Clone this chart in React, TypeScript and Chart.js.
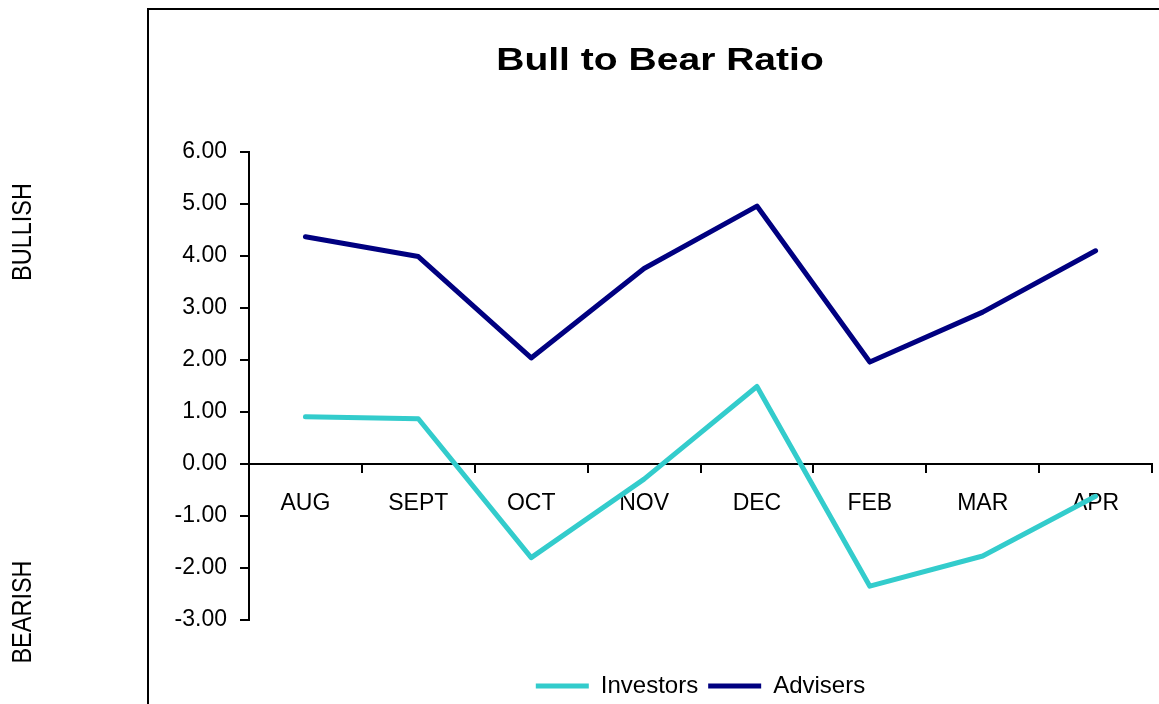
import React, { useEffect, useRef } from 'react';
import { Chart, registerables } from 'chart.js';

Chart.register(...registerables);

const categories = ['AUG', 'SEPT', 'OCT', 'NOV', 'DEC', 'FEB', 'MAR', 'APR'];
const investors = [0.91, 0.87, -1.8, -0.29, 1.49, -2.35, -1.77, -0.62];
const advisers = [4.37, 3.99, 2.04, 3.76, 4.96, 1.96, 2.92, 4.1];
const yMin = -3;
const yMax = 6;
const yStep = 1;
const chartTitle = 'Bull to Bear Ratio';
const upperLabel = 'BULLISH';
const lowerLabel = 'BEARISH';

const FONT = '"Liberation Sans", Arial, Helvetica, sans-serif';

const decorations = {
  id: 'decorations',
  afterDraw(chart: any) {
    const ctx = chart.ctx;
    ctx.save();
    // outer frame (top and left edges visible)
    ctx.strokeStyle = '#000';
    ctx.lineWidth = 2;
    ctx.beginPath();
    ctx.moveTo(148, 720);
    ctx.lineTo(148, 9);
    ctx.lineTo(1200, 9);
    ctx.stroke();

    // title
    ctx.fillStyle = '#000';
    ctx.font = `bold 32px ${FONT}`;
    ctx.textAlign = 'center';
    ctx.textBaseline = 'alphabetic';
    ctx.save();
    ctx.translate(660, 70);
    ctx.scale(1.22, 1);
    ctx.fillText(chartTitle, 0, 0);
    ctx.restore();

    // side labels
    ctx.font = `23.5px ${FONT}`;
    ctx.textAlign = 'center';
    ctx.textBaseline = 'middle';
    ctx.save();
    ctx.translate(23, 232);
    ctx.rotate(-Math.PI / 2);
    ctx.scale(1, 1.18);
    ctx.fillText(upperLabel, 0, 0);
    ctx.restore();
    ctx.save();
    ctx.translate(23, 612);
    ctx.rotate(-Math.PI / 2);
    ctx.scale(1, 1.18);
    ctx.fillText(lowerLabel, 0, 0);
    ctx.restore();
    ctx.restore();
  },
};

export default function App() {
  const ref = useRef<HTMLCanvasElement>(null);

  useEffect(() => {
    if (!ref.current) return;
    const chart = new Chart(ref.current, {
      type: 'line',
      data: {
        labels: categories,
        datasets: [
          {
            label: 'Investors',
            data: investors,
            borderColor: '#33CCCC',
            backgroundColor: '#33CCCC',
            borderWidth: 5,
            pointRadius: 0,
            borderCapStyle: 'round',
            borderJoinStyle: 'round',
            tension: 0,
          },
          {
            label: 'Advisers',
            data: advisers,
            borderColor: '#000080',
            backgroundColor: '#000080',
            borderWidth: 5,
            pointRadius: 0,
            borderCapStyle: 'round',
            borderJoinStyle: 'round',
            tension: 0,
          },
        ],
      },
      options: {
        responsive: false,
        animation: false,
        layout: { padding: { left: 0, right: 7, top: 152, bottom: -4 } },
        plugins: {
          title: { display: false },
          tooltip: { enabled: false },
          legend: {
            position: 'bottom',
            fullSize: false,
            title: {
              display: true,
              text: '',
              font: { family: FONT, size: 12 },
              padding: { top: 29.6, bottom: 0 },
            },
            labels: {
              color: '#000',
              font: { family: FONT, size: 24 },
              usePointStyle: true,
              pointStyle: 'line',
              pointStyleWidth: 53,
              boxHeight: 24,
              padding: 10,
            },
          },
        },
        scales: {
          x: {
            type: 'category',
            position: { y: 0 } as any,
            offset: true,
            grid: {
              offset: true,
              drawOnChartArea: false,
              drawTicks: true,
              tickLength: 8,
              color: '#000',
              lineWidth: 2,
            },
            border: { color: '#000', width: 2 },
            ticks: {
              color: '#000',
              font: { family: FONT, size: 23 },
              padding: 18,
              maxRotation: 0,
              autoSkip: false,
            },
          },
          y: {
            min: yMin,
            max: yMax,
            afterFit: (scale: any) => {
              scale.width = 249;
            },
            grid: {
              drawOnChartArea: false,
              drawTicks: true,
              tickLength: 9,
              color: '#000',
              lineWidth: 2,
            },
            border: { color: '#000', width: 2 },
            ticks: {
              stepSize: yStep,
              color: '#000',
              font: { family: FONT, size: 23 },
              padding: 13,
              callback: (v: any) => Number(v).toFixed(2),
            },
          },
        },
      },
      plugins: [decorations],
    });
    return () => chart.destroy();
  }, []);

  return (
    <div
      style={{
        position: 'absolute',
        left: 0,
        top: 0,
        width: 1159,
        height: 704,
        overflow: 'hidden',
        background: '#fff',
      }}
    >
      <canvas ref={ref} width={1159} height={704} style={{ display: 'block', width: 1159, height: 704 }} />
    </div>
  );
}
